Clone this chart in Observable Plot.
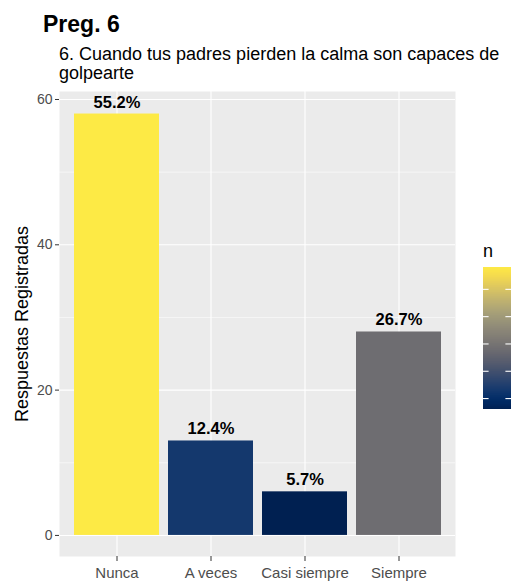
<!DOCTYPE html>
<html><head><meta charset="utf-8">
<script src="https://cdn.jsdelivr.net/npm/d3@7"></script>
<script src="https://cdn.jsdelivr.net/npm/@observablehq/plot@0.6"></script>
<style>
body{margin:0;background:#fff;font-family:"Liberation Sans",Arial,sans-serif;}
#wrap{position:relative;width:512px;height:582px;overflow:hidden;background:#fff;}
#title{position:absolute;left:43px;top:13px;font-size:23px;line-height:23px;font-weight:bold;color:#000;white-space:nowrap;}
#subtitle{position:absolute;left:59px;top:45px;font-size:18px;line-height:19px;color:#000;white-space:nowrap;}
#chart{position:absolute;left:0;top:0;}
#legendTitle{position:absolute;left:483px;top:242px;font-size:18px;line-height:18px;color:#000;}
#legend{position:absolute;left:483px;top:267px;}
</style>
</head><body>
<div id="wrap">
  <div id="chart"></div>
  <div id="title"></div>
  <div id="subtitle"></div>
  <div id="legendTitle">n</div>
  <div id="legend"></div>
</div>
<script>
const titleText = "Preg. 6";
const subtitleLines = ["6. Cuando tus padres pierden la calma son capaces de", "golpearte"];
const categories = ["Nunca", "A veces", "Casi siempre", "Siempre"];
const counts = [58, 13, 6, 28];
const percentLabels = ["55.2%", "12.4%", "5.7%", "26.7%"];
const yTicks = [0, 20, 40, 60];
const yMinorTicks = [10, 30, 50];
const legendTicks = [10, 20, 30, 40, 50];
const yLabel = "Respuestas Registradas";

document.getElementById("title").textContent = titleText;
document.getElementById("subtitle").innerHTML = subtitleLines.join("<br>");

const data = categories.map((c, i) => ({cat: c, n: counts[i], label: percentLabels[i]}));
const colorScale = {type: "linear", domain: [d3.min(counts), d3.max(counts)], scheme: "cividis"};
const font = "Liberation Sans, Arial, sans-serif";

const chart = Plot.plot({
  width: 512,
  height: 582,
  marginTop: 91,
  marginBottom: 26,
  marginLeft: 59,
  marginRight: 57,
  style: {fontFamily: font, background: "transparent"},
  x: {type: "band", domain: categories, paddingInner: 0.1, paddingOuter: 0.15, label: null},
  y: {domain: [-2.9, 61.1], label: null},
  color: colorScale,
  marks: [
    Plot.frame({fill: "#EBEBEB", stroke: "none"}),
    Plot.ruleY(yMinorTicks, {stroke: "white", strokeWidth: 0.55}),
    Plot.ruleY(yTicks, {stroke: "white", strokeWidth: 1.1}),
    Plot.gridX({stroke: "white", strokeOpacity: 1, strokeWidth: 1.1}),
    Plot.barY(data, {x: "cat", y: "n", fill: "n"}),
    Plot.text(data, {x: "cat", y: "n", text: "label", dy: -6.5, lineAnchor: "bottom", fontWeight: "bold", fontSize: 16.5, fill: "black"}),
    Plot.axisY({ticks: yTicks, tickSize: 4, tickPadding: 3, fontSize: 14, fill: "#4D4D4D", stroke: "#333", label: null}),
    Plot.axisX({tickSize: 5, tickPadding: 6, fontSize: 15, fill: "#4D4D4D", stroke: "#333", label: null}),
    Plot.text([yLabel], {frameAnchor: "left", textAnchor: "middle", rotate: -90, dx: -37, fontSize: 18, fill: "black"})
  ]
});
document.getElementById("chart").appendChild(chart);

const step = 0.25;
const legend = Plot.plot({
  width: 28,
  height: 142,
  margin: 0,
  style: {background: "transparent"},
  x: {domain: [0, 1], axis: null},
  y: {domain: colorScale.domain, axis: null},
  color: colorScale,
  marks: [
    Plot.rect(d3.range(colorScale.domain[0], colorScale.domain[1], step), {x1: 0, x2: 1, y1: d => d, y2: d => Math.min(d + step + 0.05, colorScale.domain[1]), fill: d => d + step / 2, shapeRendering: "crispEdges"}),
    Plot.ruleY(legendTicks, {x1: 0, x2: 0.2, stroke: "white", strokeWidth: 1.1}),
    Plot.ruleY(legendTicks, {x1: 0.8, x2: 1, stroke: "white", strokeWidth: 1.1})
  ]
});
document.getElementById("legend").appendChild(legend);
</script>
</body></html>
